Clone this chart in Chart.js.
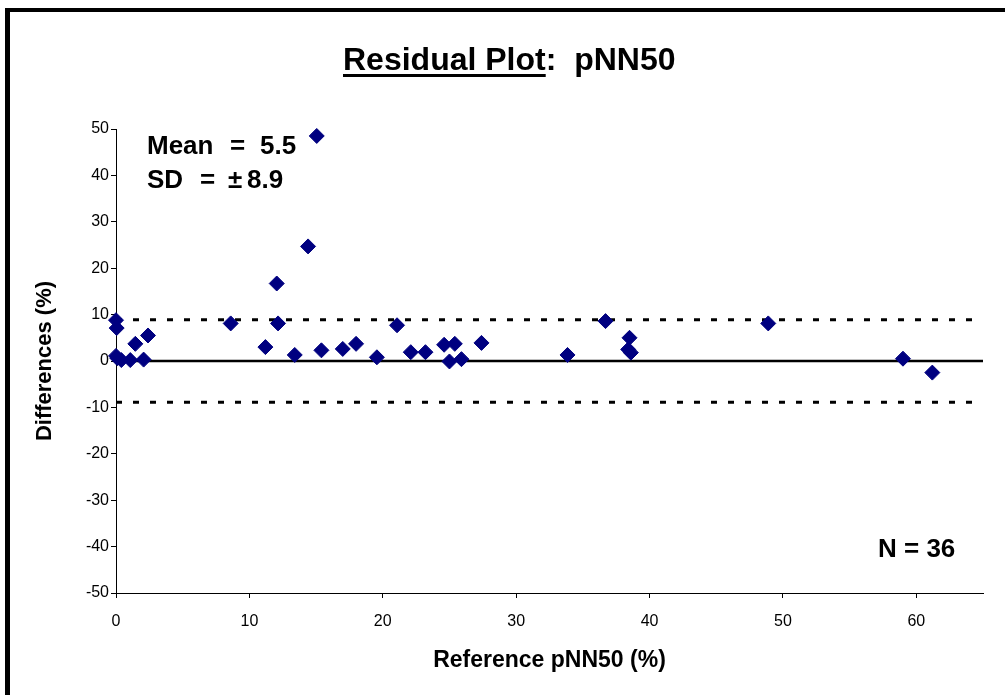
<!DOCTYPE html>
<html>
<head>
<meta charset="utf-8">
<script src="https://cdn.jsdelivr.net/npm/chart.js@4.4.1/dist/chart.umd.min.js"></script>
<style>
    body { margin: 0; background: #fff; }
    #wrap { position: relative; width: 1005px; height: 695px; }
    #bieuDo { position: absolute; left: 0; top: 0; }
    .khung { position: absolute; background: #000; }
</style>
</head>
<body>
<div id="wrap">
    <canvas id="bieuDo" width="1005" height="695"></canvas>
    <div class="khung" style="left:5px; top:8px; width:1000px; height:4px;"></div>
    <div class="khung" style="left:5px; top:8px; width:5px; height:687px;"></div>
</div>
<script>
// Reference pNN50 (%) vs differences (%)
var refX = [0, 0.05, 0, 0.1, 0.4, 1.07, 1.45, 2.07, 2.4, 8.6, 11.2, 12.05, 12.15, 13.4, 14.4, 15.05, 15.4, 17.0,
    18.0, 19.56, 21.07, 22.1, 23.2, 24.6, 25.4, 25.0, 25.9, 27.4, 33.85, 36.7, 38.5, 38.4, 38.6, 48.9, 59.0, 61.2];
var diffY = [8.8, 7.1, 1.1, 0.6, 0.2, 0.2, 3.7, 0.3, 5.5, 8.1, 3.0, 16.7, 8.1, 1.3, 24.7, 48.5, 2.3, 2.6,
    3.7, 0.8, 7.7, 1.9, 1.9, 3.5, 3.7, -0.1, 0.4, 3.9, 1.3, 8.6, 5.0, 2.5, 1.8, 8.1, 0.5, -2.5];
var meanDiff = 5.5;
var sdDiff = 8.9;
var xMin = 0, xMax = 65;
var yMin = -50, yMax = 50;

var fontChu = "'Liberation Sans', Arial, sans-serif";

var diem = [];
for (var i = 0; i < refX.length; i++) {
    diem.push({ x: refX[i], y: diffY[i] });
}

function duongNgang(y) {
    return [{ x: xMin, y: y }, { x: xMax, y: y }];
}

// title + text boxes
var vanBanPlugin = {
    id: 'vanBan',
    afterDraw: function (chart) {
        var ctx = chart.ctx;
        ctx.save();
        ctx.fillStyle = '#000';
        ctx.textBaseline = 'middle';
        ctx.textAlign = 'left';

        ctx.font = 'bold 32px ' + fontChu;
        var t1 = 'Residual Plot';
        var w1 = ctx.measureText(t1).width;
        var x0 = 343;
        ctx.fillText(t1, x0, 61);
        ctx.fillText(':  pNN50', x0 + w1, 61);
        ctx.fillRect(x0, 74, w1, 3);

        ctx.font = 'bold 26px ' + fontChu;
        ctx.fillText('Mean', 147, 147);
        ctx.fillText('=', 230, 147);
        ctx.fillText(meanDiff.toFixed(1), 260, 147);
        ctx.fillText('SD', 147, 181);
        ctx.fillText('=', 200, 181);
        ctx.fillText('±', 228, 181);
        ctx.fillText(sdDiff.toFixed(1), 247, 181);

        ctx.fillText('N = ' + refX.length, 878, 550);
        ctx.restore();
    }
};

var ctxD = document.getElementById('bieuDo').getContext('2d');
new Chart(ctxD, {
    type: 'scatter',
    data: {
        datasets: [{
            data: diem,
            order: 0,
            clip: false,
            pointStyle: 'rectRot',
            pointRadius: 7.5,
            backgroundColor: '#000080',
            borderColor: '#000080',
            borderWidth: 1
        }, {
            type: 'line',
            data: duongNgang(0),
            order: 1,
            borderColor: '#000',
            borderWidth: 2.5,
            pointRadius: 0
        }, {
            type: 'line',
            data: duongNgang(sdDiff),
            order: 1,
            borderColor: '#000',
            borderWidth: 3,
            borderDash: [6, 11],
            pointRadius: 0
        }, {
            type: 'line',
            data: duongNgang(-sdDiff),
            order: 1,
            borderColor: '#000',
            borderWidth: 3,
            borderDash: [6, 11],
            pointRadius: 0
        }]
    },
    options: {
        responsive: false,
        animation: false,
        layout: { padding: { top: 129, right: 22, left: 0, bottom: 0 } },
        plugins: {
            legend: { display: false },
            tooltip: { enabled: false }
        },
        scales: {
            x: {
                type: 'linear',
                min: xMin,
                max: xMax,
                afterFit: function (s) { s.height = 102; },
                afterBuildTicks: function (s) {
                    s.ticks = s.ticks.filter(function (t) { return t.value % 10 === 0; });
                },
                grid: { drawOnChartArea: false, color: '#000', tickLength: 5 },
                border: { color: '#000', width: 1 },
                ticks: { stepSize: 10, color: '#000', padding: 14, maxRotation: 0, font: { size: 16, family: fontChu } },
                title: {
                    display: true,
                    text: 'Reference pNN50 (%)',
                    color: '#000',
                    font: { size: 23, weight: 'bold', family: fontChu },
                    padding: { top: 0, bottom: 21 }
                }
            },
            y: {
                min: yMin,
                max: yMax,
                afterFit: function (s) { s.width = 116; },
                grid: { drawOnChartArea: false, color: '#000', tickLength: 5 },
                border: { color: '#000', width: 1 },
                ticks: { stepSize: 10, color: '#000', padding: 2, font: { size: 16, family: fontChu } },
                title: {
                    display: true,
                    text: 'Differences (%)',
                    color: '#000',
                    font: { size: 22, weight: 'bold', family: fontChu },
                    padding: { top: 32, bottom: 0 }
                }
            }
        }
    },
    plugins: [vanBanPlugin]
});
</script>
</body>
</html>
